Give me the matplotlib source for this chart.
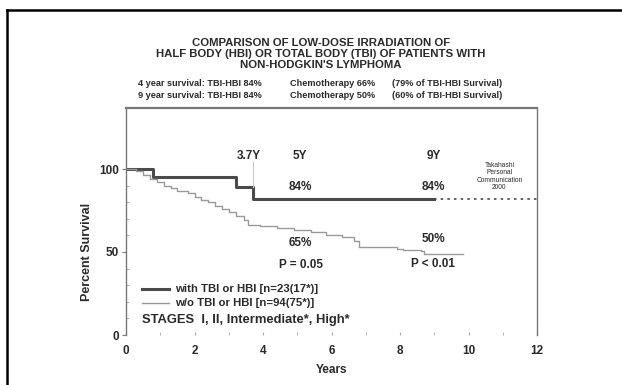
import numpy as np
import matplotlib.pyplot as plt
from matplotlib.lines import Line2D

plt.rcParams['font.family'] = ['Liberation Sans', 'DejaVu Sans']

# Kaplan-Meier style curves (years, percent survival)
tbi_t = [0, 0.8, 3.2, 3.7, 9.0]
tbi_s = [100, 95, 89, 82, 82]
tbi_ext_t = [9.0, 12.0]
tbi_ext_s = [82, 82]

chemo_t = [0, 0.3, 0.5, 0.7, 0.9, 1.1, 1.3, 1.5, 1.8, 2.0, 2.2, 2.4, 2.6, 2.8,
           3.0, 3.2, 3.45, 3.55, 3.9, 4.4, 4.9, 5.4, 5.85, 6.3, 6.65, 6.8,
           7.9, 8.1, 8.6, 8.7, 9.85]
chemo_s = [100, 98.5, 96.5, 94, 92, 90, 88.5, 87, 85.5, 83, 81.5, 80, 78, 76,
           74, 71.5, 69.5, 66.5, 65.5, 64.5, 63.3, 62, 60.5, 59, 56.5, 53,
           52, 51, 50.5, 49, 49]

title_lines = ["COMPARISON OF LOW-DOSE IRRADIATION OF",
               "HALF BODY (HBI) OR TOTAL BODY (TBI) OF PATIENTS WITH",
               "NON-HODGKIN'S LYMPHOMA"]
summary_rows = [["4 year survival: TBI-HBI 84%", "Chemotherapy 66%", "(79% of TBI-HBI Survival)"],
                ["9 year survival: TBI-HBI 84%", "Chemotherapy 50%", "(60% of TBI-HBI Survival)"]]
legend_labels = ["with TBI or HBI [n=23(17*)]", "w/o TBI or HBI [n=94(75*)]"]

dark = '#4a4a4a'
light = '#9a9a9a'
txt = '#2a2a2a'

fig = plt.figure(figsize=(6.22, 3.85), dpi=100)
W, H = 622, 385

# outer frame (open on right and bottom)
fig.add_artist(Line2D([7 / W, 7 / W], [0, 1 - 10 / H], transform=fig.transFigure, color='black', lw=1.8))
fig.add_artist(Line2D([7 / W, 1], [1 - 10 / H, 1 - 10 / H], transform=fig.transFigure, color='black', lw=1.8))

ax = fig.add_axes([126 / W, 1 - 335 / H, (537 - 126) / W, (335 - 108) / H])
ax.set_xlim(0, 12)
ax.set_ylim(0, (335 - 108) / 1.66)

ax.step(tbi_t, tbi_s, where='post', color=dark, lw=2.2)
ax.plot(tbi_ext_t, tbi_ext_s, color=dark, lw=1.2, linestyle=(0, (1.5, 2.5)))
ax.step(chemo_t, chemo_s, where='post', color=light, lw=1.0)
ax.plot([3.7, 3.7], [89, 104], color='#c8c8c8', lw=0.8)

for s in ['top', 'right', 'left']:
    ax.spines[s].set_color('#777777')
ax.spines['top'].set_linewidth(1.6)
ax.spines['right'].set_linewidth(1.0)
ax.spines['left'].set_linewidth(1.0)
ax.spines['bottom'].set_visible(False)

ax.set_xticks(np.arange(0, 13, 2))
ax.set_xticks(np.arange(0, 13, 1), minor=True)
ax.set_yticks([0, 50, 100])
ax.set_yticks(np.arange(0, 101, 10), minor=True)
ax.tick_params(axis='x', which='both', direction='in', length=2, color='#aaaaaa', pad=7)
ax.tick_params(axis='y', which='major', direction='out', length=3, color='#777777', pad=2)
ax.tick_params(axis='y', which='minor', direction='in', length=2, color='#aaaaaa')
ax.tick_params(axis='both', labelsize=8.5, labelcolor=txt)
for lab in ax.get_xticklabels() + ax.get_yticklabels():
    lab.set_fontweight('bold')

ax.set_xlabel('Years', fontsize=8.5, fontweight='bold', color=txt, labelpad=5)
ax.set_ylabel('Percent Survival', fontsize=9, fontweight='bold', color=txt)
ax.yaxis.set_label_coords(-0.08, (335 - 252) / 227)

ann = dict(fontsize=8.5, fontweight='bold', color=txt, ha='center', va='center')
ax.text(3.6, 107.8, '3.7Y', **ann)
ax.text(5.08, 107.8, '5Y', **ann)
ax.text(9.0, 107.8, '9Y', **ann)
ax.text(5.08, 89, '84%', **ann)
ax.text(8.97, 89, '84%', **ann)
ax.text(5.08, 55.4, '65%', **ann)
ax.text(8.97, 57.8, '50%', **ann)
ax.text(5.11, 42, 'P = 0.05', **ann)
ax.text(8.97, 42.8, 'P < 0.01', **ann)

# legend drawn by hand
ax.plot([0.47, 1.25], [27.7, 27.7], color=dark, lw=2.2)
ax.plot([0.47, 1.25], [19.3, 19.3], color=light, lw=1.0)
ax.text(1.42, 27.7, legend_labels[0], fontsize=8.2, fontweight='bold', color=txt, va='center')
ax.text(1.42, 19.3, legend_labels[1], fontsize=8.2, fontweight='bold', color=txt, va='center')
ax.text(0.47, 9, 'STAGES  I, II, Intermediate*, High*', fontsize=9.4, fontweight='bold', color=txt, va='center')

ax.text(10.9, 95.5, 'Takahashi\nPersonal\nCommunication\n2000', fontsize=4.8, color=txt,
        ha='center', va='center', linespacing=1.1)

# title block
for i, line in enumerate(title_lines):
    fig.text(321 / W, 1 - (43 + i * 11) / H, line, fontsize=8.2, fontweight='bold',
             color=txt, ha='center', va='center')
col_x = [138, 290, 392]
for r, row in enumerate(summary_rows):
    for c, item in enumerate(row):
        fig.text(col_x[c] / W, 1 - (84 + r * 12) / H, item, fontsize=6.6, fontweight='bold',
                 color=txt, ha='left', va='center')

fig.savefig('out.png', dpi=100)
